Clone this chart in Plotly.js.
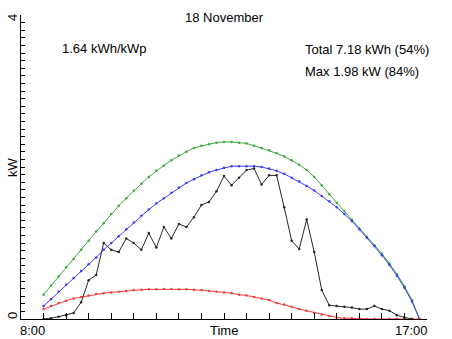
<!DOCTYPE html>
<html>
<head>
<meta charset="utf-8">
<script src="https://cdn.plot.ly/plotly-3.0.1.min.js"></script>
<style>html,body{margin:0;padding:0;background:#fff;}#chart{width:452px;height:339px;}</style>
</head>
<body>
<div id="chart"></div>
<script>
// 10-minute time stamps
const times = ["8:30","8:40","8:50","9:00","9:10","9:20","9:30","9:40","9:50","10:00",
  "10:10","10:20","10:30","10:40","10:50","11:00","11:10","11:20","11:30","11:40",
  "11:50","12:00","12:10","12:20","12:30","12:40","12:50","13:00","13:10","13:20",
  "13:30","13:40","13:50","14:00","14:10","14:20","14:30","14:40","14:50","15:00",
  "15:10","15:20","15:30","15:40","15:50","16:00","16:10","16:20","16:30","16:40","16:50"];

// measured power (kW)
const measured = [0.00,0.01,0.03,0.05,0.08,0.22,0.51,0.58,1.00,0.91,
  0.88,1.06,1.00,0.91,1.13,0.94,1.21,1.06,1.25,1.21,
  1.34,1.50,1.54,1.68,1.88,1.76,1.86,1.96,1.98,1.77,
  1.89,1.89,1.47,1.03,0.92,1.31,0.88,0.38,0.18,0.17,
  0.16,0.15,0.13,0.13,0.17,0.13,0.11,0.05,0.02,0.00];

// theoretical curves (kW)
const maxClear = [0.32,0.44,0.56,0.68,0.79,0.91,1.03,1.15,1.26,1.38,
  1.49,1.59,1.69,1.78,1.87,1.95,2.02,2.09,2.15,2.20,
  2.25,2.28,2.30,2.32,2.33,2.33,2.32,2.31,2.28,2.25,
  2.22,2.18,2.14,2.09,2.03,1.96,1.87,1.76,1.64,1.53,
  1.42,1.31,1.19,1.08,0.97,0.86,0.73,0.59,0.43,0.25,0.00];

const clearSky = [0.17,0.26,0.36,0.45,0.54,0.63,0.72,0.81,0.91,1.00,
  1.09,1.18,1.27,1.36,1.44,1.52,1.59,1.66,1.73,1.79,
  1.84,1.89,1.93,1.96,1.99,2.01,2.01,2.01,2.01,2.00,
  1.98,1.95,1.91,1.86,1.81,1.75,1.69,1.62,1.55,1.47,
  1.38,1.29,1.18,1.07,0.96,0.84,0.71,0.57,0.41,0.23,0.00];

const diffuse = [0.13,0.17,0.21,0.24,0.27,0.29,0.31,0.33,0.34,0.35,
  0.36,0.37,0.38,0.385,0.39,0.39,0.395,0.395,0.39,0.39,
  0.385,0.38,0.37,0.36,0.35,0.34,0.32,0.31,0.29,0.27,
  0.25,0.21,0.19,0.16,0.13,0.11,0.08,0.06,0.04,0.02,
  0.01,0.01,0.005,0,0,0,0,0,0,0,0];

const yTickVals = [0,1,2,3,4];
const yTickText = ["0","","","","4"];
const xTickVals = [8,8.5,9,9.5,10,10.5,11,11.5,12,12.5,13,13.5,14,14.5,15,15.5,16,16.5,17];
const xEndLabels = ["8:00","17:00"];

const toH = s => { const p = s.split(":"); return +p[0] + (+p[1])/60; };
const xh = times.map(toH);

function tr(y, color, lw, ms) {
  return {x: xh.slice(0, y.length), y: y, type: "scatter", mode: "lines+markers",
    line: {color: color, width: lw}, marker: {color: color, size: ms, symbol: "circle"},
    hoverinfo: "skip"};
}

const data = [
  tr(maxClear, "rgb(60,170,60)", 1, 2.5),
  tr(clearSky, "rgb(60,60,250)", 1, 2.5),
  tr(diffuse, "rgb(250,60,60)", 1, 2.5),
  tr(measured, "rgb(40,40,40)", 1, 2.5)
];

const F = "Liberation Sans, Arial, sans-serif";
const annotations = [
  {text: "18 November", x: 0.5, y: 1.0, xref: "paper", yref: "paper", yanchor: "middle", yshift: -2, showarrow: false},
  {text: xEndLabels[0], x: 8, xref: "x", y: 0, yref: "paper", xanchor: "left", yanchor: "top", yshift: -2, xshift: -3, showarrow: false},
  {text: xEndLabels[1], x: 17, xref: "x", y: 0, yref: "paper", xanchor: "right", yanchor: "top", yshift: -2, xshift: 3, showarrow: false},
  {text: "Time", x: 0.5, xref: "paper", y: 0, yref: "paper", yanchor: "top", yshift: -2, showarrow: false},
  {text: "kW", x: 0, xref: "paper", y: 0.5, yref: "paper", textangle: -90, xanchor: "center", yanchor: "middle", xshift: -9, showarrow: false},
  {text: "1.64 kWh/kWp", x: 8.87, xref: "x", y: 3.56, yref: "y", xanchor: "left", showarrow: false},
  {text: "Total 7.18 kWh (54%)", x: 14.25, xref: "x", y: 3.55, yref: "y", xanchor: "left", showarrow: false},
  {text: "Max 1.98 kW (84%)", x: 14.25, xref: "x", y: 3.26, yref: "y", xanchor: "left", showarrow: false}
];
yTickVals.forEach((v, i) => {
  if (yTickText[i]) annotations.push({text: yTickText[i], x: 0, xref: "paper", y: v, yref: "y",
    textangle: -90, xanchor: "center", yanchor: "middle", xshift: -9, yshift: (v === 0 ? 3 : -3), showarrow: false});
});

const layout = {
  width: 452, height: 339,
  margin: {l: 21, r: 25, t: 15, b: 20, pad: 0},
  paper_bgcolor: "#fff", plot_bgcolor: "#fff",
  showlegend: false,
  font: {family: F, size: 13, color: "#000"},
  xaxis: {range: [8, 17], showgrid: false, zeroline: false, showline: true,
    linecolor: "#000", linewidth: 1, ticks: "inside", ticklen: 6, tickcolor: "#000",
    tickvals: xTickVals, ticktext: xTickVals.map(() => ""), fixedrange: true},
  yaxis: {range: [0, 4], showgrid: false, zeroline: false, showline: true,
    linecolor: "#000", linewidth: 1, ticks: "inside", ticklen: 8, tickcolor: "#000",
    tickvals: yTickVals, ticktext: yTickText, showticklabels: false,
    minor: {tickmode: "linear", tick0: 0, dtick: 0.1, ticklen: 4, tickcolor: "#000", ticks: "inside", showgrid: false},
    fixedrange: true},
  annotations: annotations
};

Plotly.newPlot("chart", data, layout, {staticPlot: true, displayModeBar: false});
</script>
</body>
</html>
